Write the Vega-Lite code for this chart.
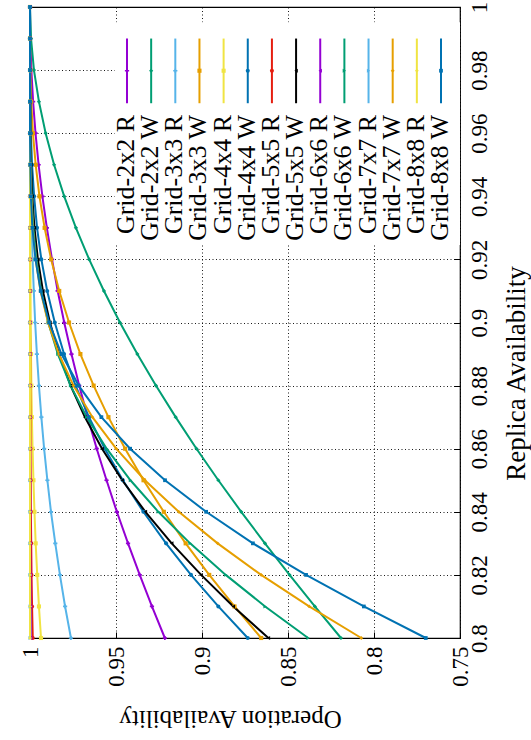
{
"$schema":"https://vega.github.io/schema/vega-lite/v6.json",
"width":430,"height":631,
"autosize":{"type":"none"},
"padding":{"left":30,"top":7,"right":71,"bottom":102},
"background":"white",
"config":{"font":"Liberation Serif","view":{"stroke":"black","strokeWidth":1.2},
"axis":{"labelFont":"Liberation Serif","titleFont":"Liberation Serif","labelColor":"black","titleColor":"black","titleFontWeight":"normal","domain":false,"gridColor":"black","gridDash":[1,2.5],"gridWidth":1,"gridOpacity":0.9,"tickColor":"black","labelFlush":false,"labelOverlap":false}},
"datasets":{
"keys":[{"s":"Grid-2x2 R"},{"s":"Grid-2x2 W"},{"s":"Grid-3x3 R"},{"s":"Grid-3x3 W"},{"s":"Grid-4x4 R"},{"s":"Grid-4x4 W"},{"s":"Grid-5x5 R"},{"s":"Grid-5x5 W"},{"s":"Grid-6x6 R"},{"s":"Grid-6x6 W"},{"s":"Grid-7x7 R"},{"s":"Grid-7x7 W"},{"s":"Grid-8x8 R"},{"s":"Grid-8x8 W"}],
"curves":[
{"s":"Grid-2x2 R","r":0.8,"o":0.9216},{"s":"Grid-2x2 R","r":0.81,"o":0.9291},{"s":"Grid-2x2 R","r":0.82,"o":0.9362},{"s":"Grid-2x2 R","r":0.83,"o":0.943},{"s":"Grid-2x2 R","r":0.84,"o":0.9495},{"s":"Grid-2x2 R","r":0.85,"o":0.9555},{"s":"Grid-2x2 R","r":0.86,"o":0.9612},{"s":"Grid-2x2 R","r":0.87,"o":0.9665},{"s":"Grid-2x2 R","r":0.88,"o":0.9714},{"s":"Grid-2x2 R","r":0.89,"o":0.9759},{"s":"Grid-2x2 R","r":0.9,"o":0.9801},{"s":"Grid-2x2 R","r":0.91,"o":0.9839},{"s":"Grid-2x2 R","r":0.92,"o":0.9872},{"s":"Grid-2x2 R","r":0.93,"o":0.9902},{"s":"Grid-2x2 R","r":0.94,"o":0.9928},{"s":"Grid-2x2 R","r":0.95,"o":0.995},{"s":"Grid-2x2 R","r":0.96,"o":0.9968},{"s":"Grid-2x2 R","r":0.97,"o":0.9982},{"s":"Grid-2x2 R","r":0.98,"o":0.9992},{"s":"Grid-2x2 R","r":0.99,"o":0.9998},{"s":"Grid-2x2 R","r":1,"o":1},
{"s":"Grid-2x2 W","r":0.8,"o":0.8192},{"s":"Grid-2x2 W","r":0.81,"o":0.8344},{"s":"Grid-2x2 W","r":0.82,"o":0.8491},{"s":"Grid-2x2 W","r":0.83,"o":0.8634},{"s":"Grid-2x2 W","r":0.84,"o":0.8772},{"s":"Grid-2x2 W","r":0.85,"o":0.8905},{"s":"Grid-2x2 W","r":0.86,"o":0.9032},{"s":"Grid-2x2 W","r":0.87,"o":0.9153},{"s":"Grid-2x2 W","r":0.88,"o":0.9268},{"s":"Grid-2x2 W","r":0.89,"o":0.9376},{"s":"Grid-2x2 W","r":0.9,"o":0.9477},{"s":"Grid-2x2 W","r":0.91,"o":0.957},{"s":"Grid-2x2 W","r":0.92,"o":0.9656},{"s":"Grid-2x2 W","r":0.93,"o":0.9733},{"s":"Grid-2x2 W","r":0.94,"o":0.9801},{"s":"Grid-2x2 W","r":0.95,"o":0.986},{"s":"Grid-2x2 W","r":0.96,"o":0.9909},{"s":"Grid-2x2 W","r":0.97,"o":0.9948},{"s":"Grid-2x2 W","r":0.98,"o":0.9977},{"s":"Grid-2x2 W","r":0.99,"o":0.9994},{"s":"Grid-2x2 W","r":1,"o":1},
{"s":"Grid-3x3 R","r":0.8,"o":0.9762},{"s":"Grid-3x3 R","r":0.81,"o":0.9796},{"s":"Grid-3x3 R","r":0.82,"o":0.9826},{"s":"Grid-3x3 R","r":0.83,"o":0.9853},{"s":"Grid-3x3 R","r":0.84,"o":0.9878},{"s":"Grid-3x3 R","r":0.85,"o":0.9899},{"s":"Grid-3x3 R","r":0.86,"o":0.9918},{"s":"Grid-3x3 R","r":0.87,"o":0.9934},{"s":"Grid-3x3 R","r":0.88,"o":0.9948},{"s":"Grid-3x3 R","r":0.89,"o":0.996},{"s":"Grid-3x3 R","r":0.9,"o":0.997},{"s":"Grid-3x3 R","r":0.91,"o":0.9978},{"s":"Grid-3x3 R","r":0.92,"o":0.9985},{"s":"Grid-3x3 R","r":0.93,"o":0.999},{"s":"Grid-3x3 R","r":0.94,"o":0.9994},{"s":"Grid-3x3 R","r":0.95,"o":0.9996},{"s":"Grid-3x3 R","r":0.96,"o":0.9998},{"s":"Grid-3x3 R","r":0.97,"o":0.9999},{"s":"Grid-3x3 R","r":0.98,"o":1},{"s":"Grid-3x3 R","r":0.99,"o":1},{"s":"Grid-3x3 R","r":1,"o":1},
{"s":"Grid-3x3 W","r":0.8,"o":0.8656},{"s":"Grid-3x3 W","r":0.81,"o":0.8811},{"s":"Grid-3x3 W","r":0.82,"o":0.8958},{"s":"Grid-3x3 W","r":0.83,"o":0.9095},{"s":"Grid-3x3 W","r":0.84,"o":0.9222},{"s":"Grid-3x3 W","r":0.85,"o":0.934},{"s":"Grid-3x3 W","r":0.86,"o":0.9447},{"s":"Grid-3x3 W","r":0.87,"o":0.9544},{"s":"Grid-3x3 W","r":0.88,"o":0.963},{"s":"Grid-3x3 W","r":0.89,"o":0.9707},{"s":"Grid-3x3 W","r":0.9,"o":0.9773},{"s":"Grid-3x3 W","r":0.91,"o":0.983},{"s":"Grid-3x3 W","r":0.92,"o":0.9877},{"s":"Grid-3x3 W","r":0.93,"o":0.9915},{"s":"Grid-3x3 W","r":0.94,"o":0.9945},{"s":"Grid-3x3 W","r":0.95,"o":0.9967},{"s":"Grid-3x3 W","r":0.96,"o":0.9983},{"s":"Grid-3x3 W","r":0.97,"o":0.9993},{"s":"Grid-3x3 W","r":0.98,"o":0.9998},{"s":"Grid-3x3 W","r":0.99,"o":1},{"s":"Grid-3x3 W","r":1,"o":1},
{"s":"Grid-4x4 R","r":0.8,"o":0.9936},{"s":"Grid-4x4 R","r":0.81,"o":0.9948},{"s":"Grid-4x4 R","r":0.82,"o":0.9958},{"s":"Grid-4x4 R","r":0.83,"o":0.9967},{"s":"Grid-4x4 R","r":0.84,"o":0.9974},{"s":"Grid-4x4 R","r":0.85,"o":0.998},{"s":"Grid-4x4 R","r":0.86,"o":0.9985},{"s":"Grid-4x4 R","r":0.87,"o":0.9989},{"s":"Grid-4x4 R","r":0.88,"o":0.9992},{"s":"Grid-4x4 R","r":0.89,"o":0.9994},{"s":"Grid-4x4 R","r":0.9,"o":0.9996},{"s":"Grid-4x4 R","r":0.91,"o":0.9997},{"s":"Grid-4x4 R","r":0.92,"o":0.9998},{"s":"Grid-4x4 R","r":0.93,"o":0.9999},{"s":"Grid-4x4 R","r":0.94,"o":0.9999},{"s":"Grid-4x4 R","r":0.95,"o":1},{"s":"Grid-4x4 R","r":0.96,"o":1},{"s":"Grid-4x4 R","r":0.97,"o":1},{"s":"Grid-4x4 R","r":0.98,"o":1},{"s":"Grid-4x4 R","r":0.99,"o":1},{"s":"Grid-4x4 R","r":1,"o":1},
{"s":"Grid-4x4 W","r":0.8,"o":0.8734},{"s":"Grid-4x4 W","r":0.81,"o":0.8905},{"s":"Grid-4x4 W","r":0.82,"o":0.9064},{"s":"Grid-4x4 W","r":0.83,"o":0.9209},{"s":"Grid-4x4 W","r":0.84,"o":0.9341},{"s":"Grid-4x4 W","r":0.85,"o":0.946},{"s":"Grid-4x4 W","r":0.86,"o":0.9565},{"s":"Grid-4x4 W","r":0.87,"o":0.9657},{"s":"Grid-4x4 W","r":0.88,"o":0.9735},{"s":"Grid-4x4 W","r":0.89,"o":0.9802},{"s":"Grid-4x4 W","r":0.9,"o":0.9856},{"s":"Grid-4x4 W","r":0.91,"o":0.99},{"s":"Grid-4x4 W","r":0.92,"o":0.9934},{"s":"Grid-4x4 W","r":0.93,"o":0.9959},{"s":"Grid-4x4 W","r":0.94,"o":0.9976},{"s":"Grid-4x4 W","r":0.95,"o":0.9988},{"s":"Grid-4x4 W","r":0.96,"o":0.9995},{"s":"Grid-4x4 W","r":0.97,"o":0.9998},{"s":"Grid-4x4 W","r":0.98,"o":1},{"s":"Grid-4x4 W","r":0.99,"o":1},{"s":"Grid-4x4 W","r":1,"o":1},
{"s":"Grid-5x5 R","r":0.8,"o":0.9984},{"s":"Grid-5x5 R","r":0.81,"o":0.9988},{"s":"Grid-5x5 R","r":0.82,"o":0.9991},{"s":"Grid-5x5 R","r":0.83,"o":0.9993},{"s":"Grid-5x5 R","r":0.84,"o":0.9995},{"s":"Grid-5x5 R","r":0.85,"o":0.9996},{"s":"Grid-5x5 R","r":0.86,"o":0.9997},{"s":"Grid-5x5 R","r":0.87,"o":0.9998},{"s":"Grid-5x5 R","r":0.88,"o":0.9999},{"s":"Grid-5x5 R","r":0.89,"o":0.9999},{"s":"Grid-5x5 R","r":0.9,"o":1},{"s":"Grid-5x5 R","r":0.91,"o":1},{"s":"Grid-5x5 R","r":0.92,"o":1},{"s":"Grid-5x5 R","r":0.93,"o":1},{"s":"Grid-5x5 R","r":0.94,"o":1},{"s":"Grid-5x5 R","r":0.95,"o":1},{"s":"Grid-5x5 R","r":0.96,"o":1},{"s":"Grid-5x5 R","r":0.97,"o":1},{"s":"Grid-5x5 R","r":0.98,"o":1},{"s":"Grid-5x5 R","r":0.99,"o":1},{"s":"Grid-5x5 R","r":1,"o":1},
{"s":"Grid-5x5 W","r":0.8,"o":0.8614},{"s":"Grid-5x5 W","r":0.81,"o":0.8818},{"s":"Grid-5x5 W","r":0.82,"o":0.9005},{"s":"Grid-5x5 W","r":0.83,"o":0.9176},{"s":"Grid-5x5 W","r":0.84,"o":0.9329},{"s":"Grid-5x5 W","r":0.85,"o":0.9464},{"s":"Grid-5x5 W","r":0.86,"o":0.9581},{"s":"Grid-5x5 W","r":0.87,"o":0.9681},{"s":"Grid-5x5 W","r":0.88,"o":0.9764},{"s":"Grid-5x5 W","r":0.89,"o":0.9831},{"s":"Grid-5x5 W","r":0.9,"o":0.9884},{"s":"Grid-5x5 W","r":0.91,"o":0.9925},{"s":"Grid-5x5 W","r":0.92,"o":0.9954},{"s":"Grid-5x5 W","r":0.93,"o":0.9974},{"s":"Grid-5x5 W","r":0.94,"o":0.9987},{"s":"Grid-5x5 W","r":0.95,"o":0.9994},{"s":"Grid-5x5 W","r":0.96,"o":0.9998},{"s":"Grid-5x5 W","r":0.97,"o":0.9999},{"s":"Grid-5x5 W","r":0.98,"o":1},{"s":"Grid-5x5 W","r":0.99,"o":1},{"s":"Grid-5x5 W","r":1,"o":1},
{"s":"Grid-6x6 R","r":0.8,"o":0.9996},{"s":"Grid-6x6 R","r":0.81,"o":0.9997},{"s":"Grid-6x6 R","r":0.82,"o":0.9998},{"s":"Grid-6x6 R","r":0.83,"o":0.9999},{"s":"Grid-6x6 R","r":0.84,"o":0.9999},{"s":"Grid-6x6 R","r":0.85,"o":0.9999},{"s":"Grid-6x6 R","r":0.86,"o":1},{"s":"Grid-6x6 R","r":0.87,"o":1},{"s":"Grid-6x6 R","r":0.88,"o":1},{"s":"Grid-6x6 R","r":0.89,"o":1},{"s":"Grid-6x6 R","r":0.9,"o":1},{"s":"Grid-6x6 R","r":0.91,"o":1},{"s":"Grid-6x6 R","r":0.92,"o":1},{"s":"Grid-6x6 R","r":0.93,"o":1},{"s":"Grid-6x6 R","r":0.94,"o":1},{"s":"Grid-6x6 R","r":0.95,"o":1},{"s":"Grid-6x6 R","r":0.96,"o":1},{"s":"Grid-6x6 R","r":0.97,"o":1},{"s":"Grid-6x6 R","r":0.98,"o":1},{"s":"Grid-6x6 R","r":0.99,"o":1},{"s":"Grid-6x6 R","r":1,"o":1},
{"s":"Grid-6x6 W","r":0.8,"o":0.8383},{"s":"Grid-6x6 W","r":0.81,"o":0.8633},{"s":"Grid-6x6 W","r":0.82,"o":0.8862},{"s":"Grid-6x6 W","r":0.83,"o":0.9069},{"s":"Grid-6x6 W","r":0.84,"o":0.9254},{"s":"Grid-6x6 W","r":0.85,"o":0.9416},{"s":"Grid-6x6 W","r":0.86,"o":0.9554},{"s":"Grid-6x6 W","r":0.87,"o":0.967},{"s":"Grid-6x6 W","r":0.88,"o":0.9764},{"s":"Grid-6x6 W","r":0.89,"o":0.9838},{"s":"Grid-6x6 W","r":0.9,"o":0.9894},{"s":"Grid-6x6 W","r":0.91,"o":0.9935},{"s":"Grid-6x6 W","r":0.92,"o":0.9963},{"s":"Grid-6x6 W","r":0.93,"o":0.9981},{"s":"Grid-6x6 W","r":0.94,"o":0.9991},{"s":"Grid-6x6 W","r":0.95,"o":0.9997},{"s":"Grid-6x6 W","r":0.96,"o":0.9999},{"s":"Grid-6x6 W","r":0.97,"o":1},{"s":"Grid-6x6 W","r":0.98,"o":1},{"s":"Grid-6x6 W","r":0.99,"o":1},{"s":"Grid-6x6 W","r":1,"o":1},
{"s":"Grid-7x7 R","r":0.8,"o":0.9999},{"s":"Grid-7x7 R","r":0.81,"o":0.9999},{"s":"Grid-7x7 R","r":0.82,"o":1},{"s":"Grid-7x7 R","r":0.83,"o":1},{"s":"Grid-7x7 R","r":0.84,"o":1},{"s":"Grid-7x7 R","r":0.85,"o":1},{"s":"Grid-7x7 R","r":0.86,"o":1},{"s":"Grid-7x7 R","r":0.87,"o":1},{"s":"Grid-7x7 R","r":0.88,"o":1},{"s":"Grid-7x7 R","r":0.89,"o":1},{"s":"Grid-7x7 R","r":0.9,"o":1},{"s":"Grid-7x7 R","r":0.91,"o":1},{"s":"Grid-7x7 R","r":0.92,"o":1},{"s":"Grid-7x7 R","r":0.93,"o":1},{"s":"Grid-7x7 R","r":0.94,"o":1},{"s":"Grid-7x7 R","r":0.95,"o":1},{"s":"Grid-7x7 R","r":0.96,"o":1},{"s":"Grid-7x7 R","r":0.97,"o":1},{"s":"Grid-7x7 R","r":0.98,"o":1},{"s":"Grid-7x7 R","r":0.99,"o":1},{"s":"Grid-7x7 R","r":1,"o":1},
{"s":"Grid-7x7 W","r":0.8,"o":0.8074},{"s":"Grid-7x7 W","r":0.81,"o":0.8377},{"s":"Grid-7x7 W","r":0.82,"o":0.8656},{"s":"Grid-7x7 W","r":0.83,"o":0.8909},{"s":"Grid-7x7 W","r":0.84,"o":0.9135},{"s":"Grid-7x7 W","r":0.85,"o":0.9332},{"s":"Grid-7x7 W","r":0.86,"o":0.9499},{"s":"Grid-7x7 W","r":0.87,"o":0.9637},{"s":"Grid-7x7 W","r":0.88,"o":0.9747},{"s":"Grid-7x7 W","r":0.89,"o":0.9832},{"s":"Grid-7x7 W","r":0.9,"o":0.9895},{"s":"Grid-7x7 W","r":0.91,"o":0.9939},{"s":"Grid-7x7 W","r":0.92,"o":0.9967},{"s":"Grid-7x7 W","r":0.93,"o":0.9984},{"s":"Grid-7x7 W","r":0.94,"o":0.9993},{"s":"Grid-7x7 W","r":0.95,"o":0.9998},{"s":"Grid-7x7 W","r":0.96,"o":0.9999},{"s":"Grid-7x7 W","r":0.97,"o":1},{"s":"Grid-7x7 W","r":0.98,"o":1},{"s":"Grid-7x7 W","r":0.99,"o":1},{"s":"Grid-7x7 W","r":1,"o":1},
{"s":"Grid-8x8 R","r":0.8,"o":1},{"s":"Grid-8x8 R","r":0.81,"o":1},{"s":"Grid-8x8 R","r":0.82,"o":1},{"s":"Grid-8x8 R","r":0.83,"o":1},{"s":"Grid-8x8 R","r":0.84,"o":1},{"s":"Grid-8x8 R","r":0.85,"o":1},{"s":"Grid-8x8 R","r":0.86,"o":1},{"s":"Grid-8x8 R","r":0.87,"o":1},{"s":"Grid-8x8 R","r":0.88,"o":1},{"s":"Grid-8x8 R","r":0.89,"o":1},{"s":"Grid-8x8 R","r":0.9,"o":1},{"s":"Grid-8x8 R","r":0.91,"o":1},{"s":"Grid-8x8 R","r":0.92,"o":1},{"s":"Grid-8x8 R","r":0.93,"o":1},{"s":"Grid-8x8 R","r":0.94,"o":1},{"s":"Grid-8x8 R","r":0.95,"o":1},{"s":"Grid-8x8 R","r":0.96,"o":1},{"s":"Grid-8x8 R","r":0.97,"o":1},{"s":"Grid-8x8 R","r":0.98,"o":1},{"s":"Grid-8x8 R","r":0.99,"o":1},{"s":"Grid-8x8 R","r":1,"o":1},
{"s":"Grid-8x8 W","r":0.8,"o":0.7699},{"s":"Grid-8x8 W","r":0.81,"o":0.8059},{"s":"Grid-8x8 W","r":0.82,"o":0.8395},{"s":"Grid-8x8 W","r":0.83,"o":0.8704},{"s":"Grid-8x8 W","r":0.84,"o":0.8976},{"s":"Grid-8x8 W","r":0.85,"o":0.9215},{"s":"Grid-8x8 W","r":0.86,"o":0.9418},{"s":"Grid-8x8 W","r":0.87,"o":0.9585},{"s":"Grid-8x8 W","r":0.88,"o":0.9717},{"s":"Grid-8x8 W","r":0.89,"o":0.9817},{"s":"Grid-8x8 W","r":0.9,"o":0.9889},{"s":"Grid-8x8 W","r":0.91,"o":0.9938},{"s":"Grid-8x8 W","r":0.92,"o":0.9968},{"s":"Grid-8x8 W","r":0.93,"o":0.9986},{"s":"Grid-8x8 W","r":0.94,"o":0.9995},{"s":"Grid-8x8 W","r":0.95,"o":0.9998},{"s":"Grid-8x8 W","r":0.96,"o":1},{"s":"Grid-8x8 W","r":0.97,"o":1},{"s":"Grid-8x8 W","r":0.98,"o":1},{"s":"Grid-8x8 W","r":0.99,"o":1},{"s":"Grid-8x8 W","r":1,"o":1}
]},
"layer":[
{"data":{"name":"curves"},
 "layer":[
  {"data":{"values":[{"k":1}]},
   "mark":{"type":"rect","color":"white"},
   "encoding":{
    "x":{"datum":0.9506,"type":"quantitative","scale":{"domain":[0.75,1],"reverse":true,"zero":false,"nice":false},
      "axis":{"orient":"bottom","values":[0.75,0.8,0.85,0.9,0.95,1],"format":".2~f","labelAngle":270,"labelAlign":"right","labelBaseline":"middle","labelFontSize":23,"labelPadding":14,"tickSize":-6,"grid":true,"title":"Operation Availability","titleFontSize":25,"titleAngle":180,"titleX":200,"titleY":80,"titleAlign":"center","titleBaseline":"middle"}},
    "x2":{"datum":0.75},
    "y":{"datum":0.9952,"type":"quantitative","scale":{"domain":[0.8,1],"zero":false,"nice":false},
      "axis":{"orient":"right","values":[0.8,0.82,0.84,0.86,0.88,0.9,0.92,0.94,0.96,0.98,1],"format":".2~f","labelAngle":270,"labelAlign":"center","labelBaseline":"middle","labelFontSize":23,"labelPadding":25,"tickSize":-6,"grid":true,"title":"Replica Availability","titleFontSize":27,"titleAngle":270,"titleX":56,"titleY":366,"titleAlign":"center","titleBaseline":"middle"}},
    "y2":{"datum":0.9246}}},
  {"mark":{"type":"line","strokeWidth":2},
   "encoding":{
    "x":{"field":"o","type":"quantitative"},
    "y":{"field":"r","type":"quantitative"},
    "order":{"field":"r","type":"quantitative"},
    "color":{"field":"s","type":"nominal","legend":null,
      "scale":{"domain":["Grid-2x2 R","Grid-2x2 W","Grid-3x3 R","Grid-3x3 W","Grid-4x4 R","Grid-4x4 W","Grid-5x5 R","Grid-5x5 W","Grid-6x6 R","Grid-6x6 W","Grid-7x7 R","Grid-7x7 W","Grid-8x8 R","Grid-8x8 W"],
       "range":["#9400D3","#009E73","#56B4E9","#E69F00","#F0E442","#0072B2","#E51E10","#000000","#9400D3","#009E73","#56B4E9","#E69F00","#F0E442","#0072B2"]}}}},
  {"mark":{"type":"point","filled":true,"opacity":1},
   "encoding":{
    "x":{"field":"o","type":"quantitative"},
    "y":{"field":"r","type":"quantitative"},
    "color":{"field":"s","type":"nominal","legend":null},
    "shape":{"field":"s","type":"nominal","legend":null,"scale":{"domain":["Grid-2x2 R","Grid-2x2 W","Grid-3x3 R","Grid-3x3 W","Grid-4x4 R","Grid-4x4 W","Grid-5x5 R","Grid-5x5 W","Grid-6x6 R","Grid-6x6 W","Grid-7x7 R","Grid-7x7 W","Grid-8x8 R","Grid-8x8 W"],"range":["cross","diamond","cross","square","square","circle","circle","triangle-left","triangle-left","triangle-right","triangle-right","diamond","diamond","square"]}},
    "size":{"field":"s","type":"ordinal","legend":null,"scale":{"domain":["Grid-2x2 R","Grid-2x2 W","Grid-3x3 R","Grid-3x3 W","Grid-4x4 R","Grid-4x4 W","Grid-5x5 R","Grid-5x5 W","Grid-6x6 R","Grid-6x6 W","Grid-7x7 R","Grid-7x7 W","Grid-8x8 R","Grid-8x8 W"],"range":[18,14,18,32,10,32,10,34,10,34,10,32,10,30]}}}}
 ]},
{"data":{"name":"keys"},
 "layer":[
  {"mark":{"type":"rule","strokeWidth":2},
   "encoding":{
    "x":{"field":"s","type":"nominal","axis":null,"scale":{"type":"point","domain":["Grid-2x2 R","Grid-2x2 W","Grid-3x3 R","Grid-3x3 W","Grid-4x4 R","Grid-4x4 W","Grid-5x5 R","Grid-5x5 W","Grid-6x6 R","Grid-6x6 W","Grid-7x7 R","Grid-7x7 W","Grid-8x8 R","Grid-8x8 W"],"range":[97,411],"padding":0}},
    "y":{"datum":0.99,"type":"quantitative"},
    "y2":{"datum":0.9695},
    "color":{"field":"s","type":"nominal","legend":null}}},
  {"mark":{"type":"point","filled":true,"opacity":1},
   "encoding":{
    "x":{"field":"s","type":"nominal","axis":null},
    "y":{"datum":0.9798,"type":"quantitative"},
    "color":{"field":"s","type":"nominal","legend":null},
    "shape":{"field":"s","type":"nominal","legend":null},
    "size":{"field":"s","type":"ordinal","legend":null}}},
  {"mark":{"type":"text","angle":270,"align":"right","baseline":"middle","fontSize":26,"font":"Liberation Serif","color":"black","dy":-1},
   "encoding":{
    "x":{"field":"s","type":"nominal","axis":null},
    "y":{"datum":0.9658,"type":"quantitative"},
    "text":{"field":"s"}}}
 ]}
],
"resolve":{"scale":{"x":"independent"}}
}
